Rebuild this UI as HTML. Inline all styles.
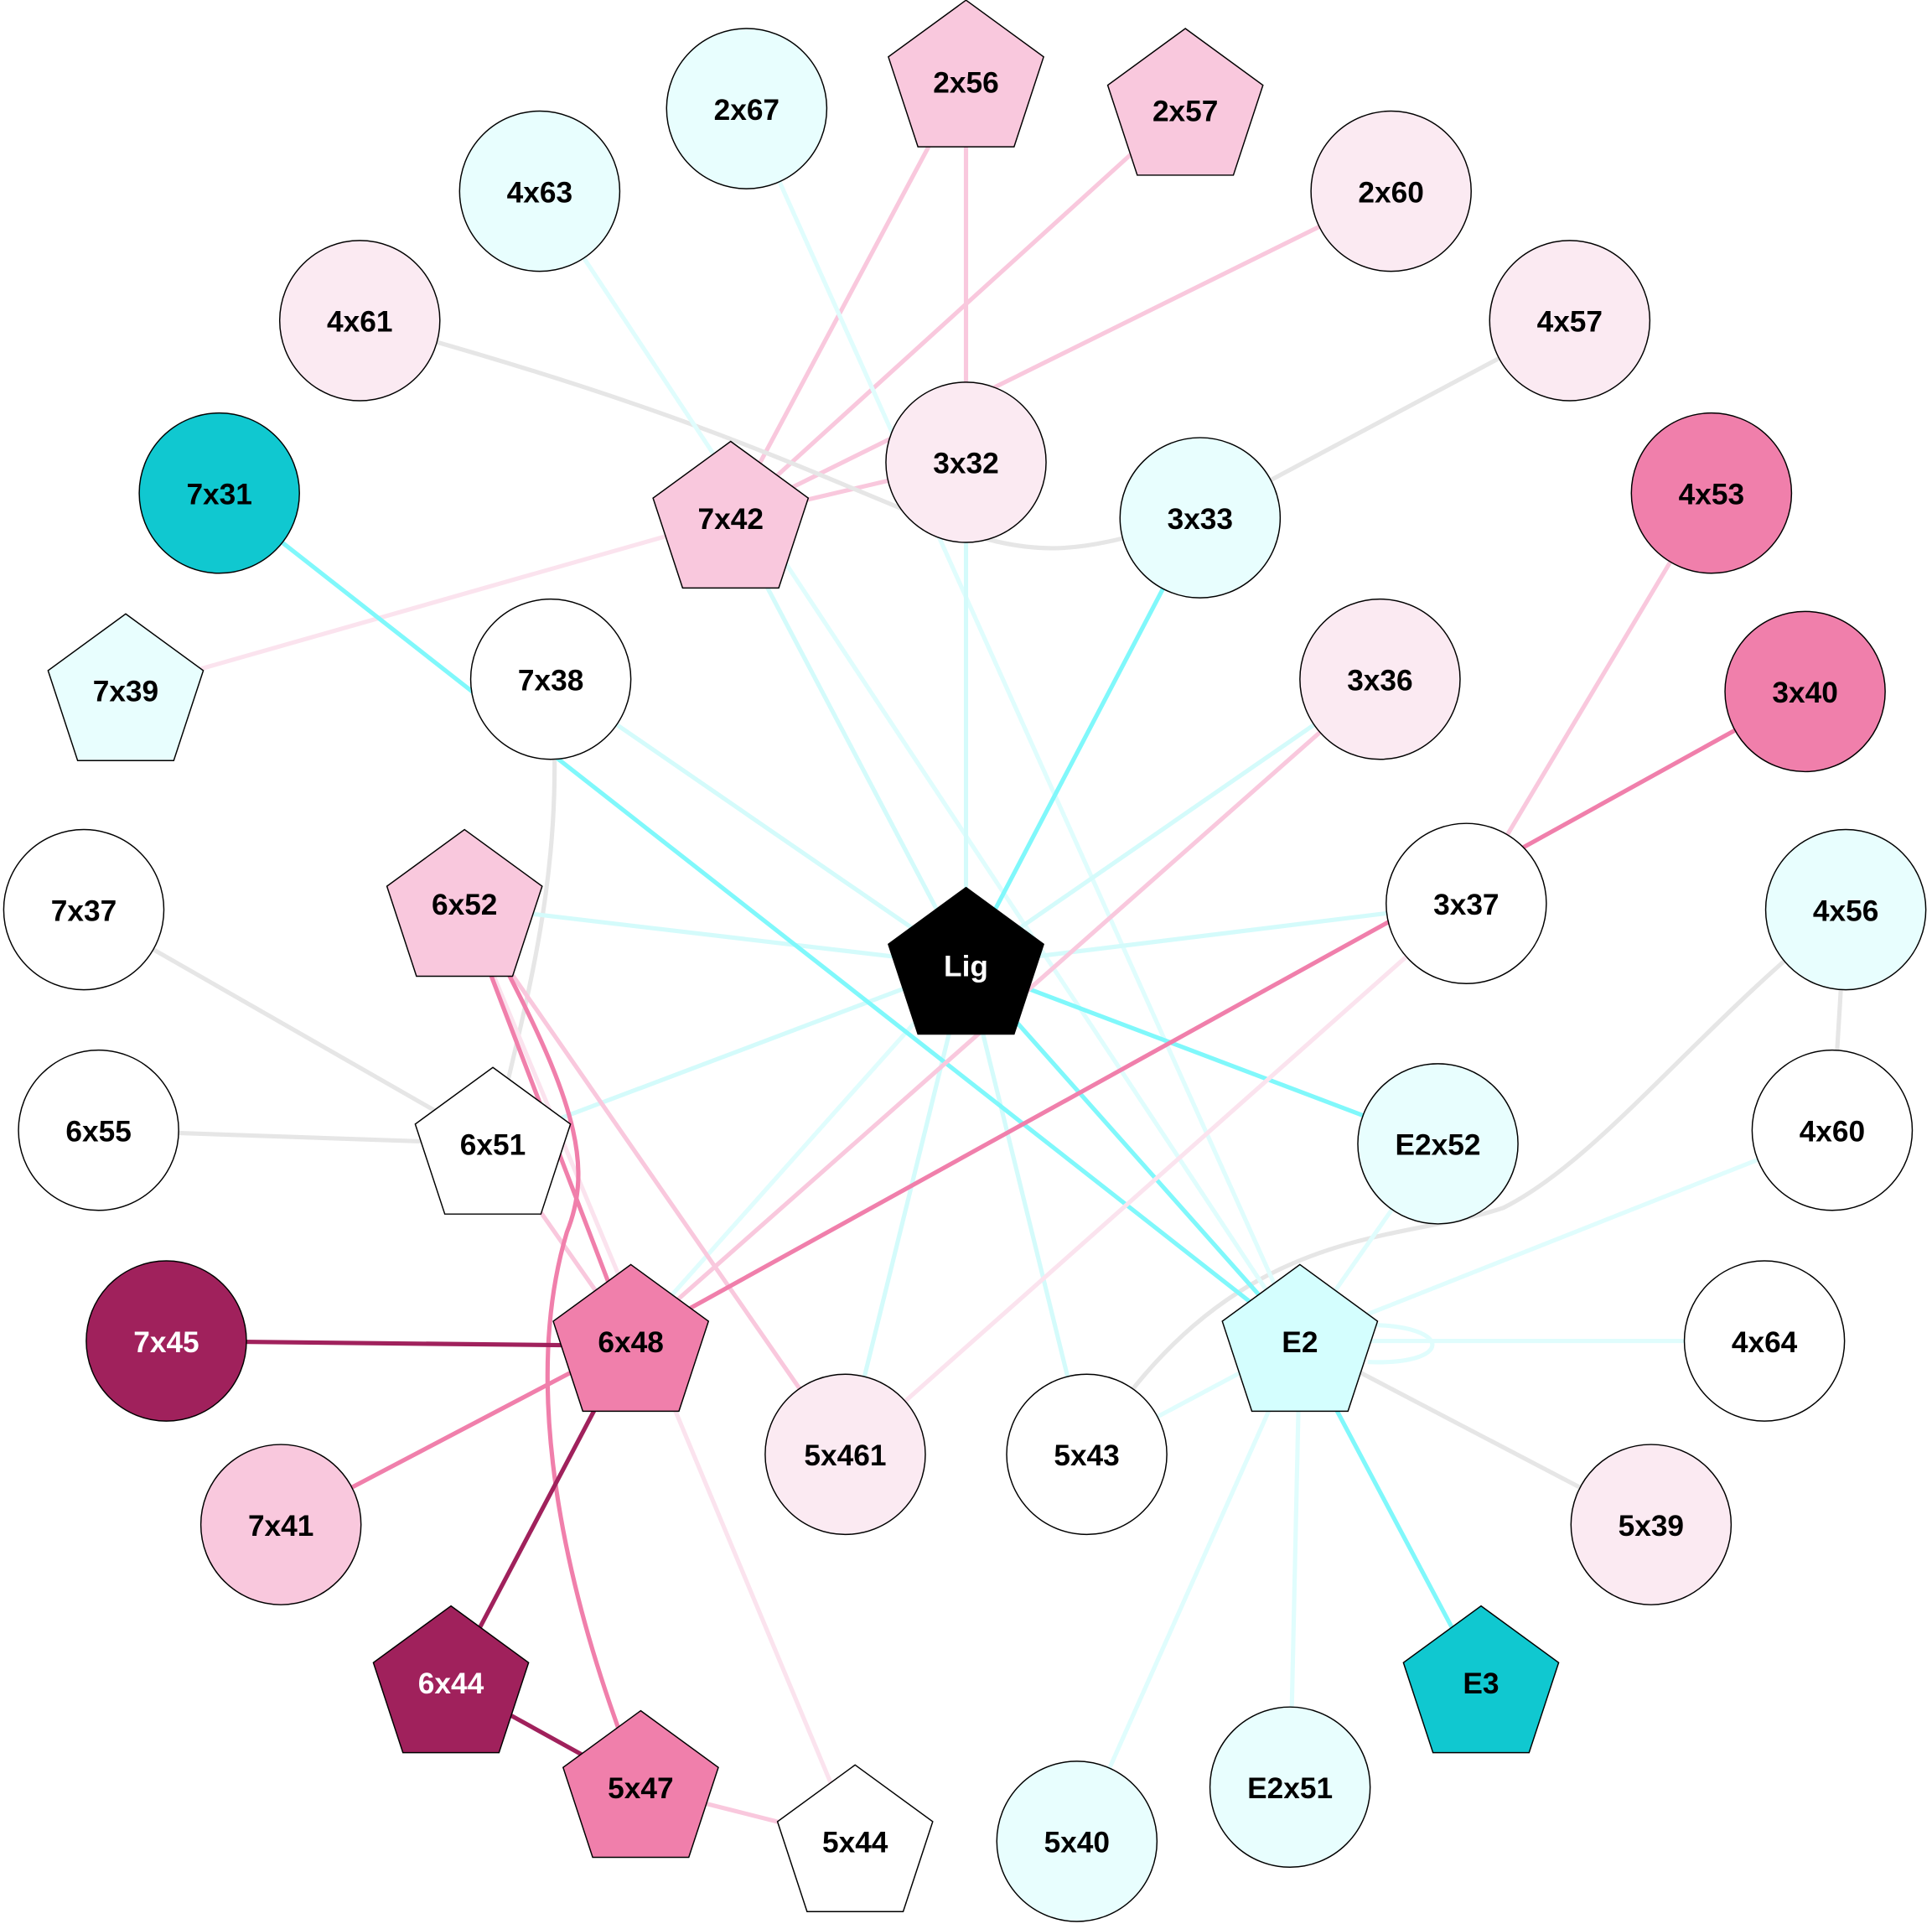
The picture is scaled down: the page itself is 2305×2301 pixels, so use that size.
<!DOCTYPE html>
<html><head><meta charset="utf-8"><style>html,body{margin:0;padding:0;background:#fff}svg{display:block}</style></head>
<body>
<svg xmlns="http://www.w3.org/2000/svg" width="2305" height="2301" viewBox="0 0 1568 1565">
<defs>
<polygon id="pent" points="0,-66 63,-20 39,53 -39,53 -63,-20"/>
</defs>
<g fill="none" stroke-width="3.5">
<!-- pink edges -->
<line x1="593" y1="420" x2="784" y2="62" stroke="#f9c8dd"/>
<line x1="593" y1="420" x2="962" y2="85" stroke="#f9c8dd"/>
<line x1="593" y1="420" x2="1129" y2="155" stroke="#f9c8dd"/>
<line x1="784" y1="62" x2="784" y2="375" stroke="#f9c8dd"/>
<line x1="593" y1="420" x2="784" y2="375" stroke="#f9c8dd"/>
<line x1="593" y1="420" x2="102" y2="560" stroke="#fbe3ee"/>
<!-- gray -->
<path d="M292,260 C550,330 650,380 750,420 S880,445 974,420" stroke="#e6e6e6"/>
<line x1="1274" y1="260" x2="974" y2="420" stroke="#e6e6e6"/>
<path d="M447,551 C460,700 430,800 400,928" stroke="#e6e6e6"/>
<line x1="68" y1="738" x2="400" y2="928" stroke="#e6e6e6"/>
<line x1="80" y1="917" x2="400" y2="928" stroke="#e6e6e6"/>
<path d="M1498,738 C1380,830 1300,940 1220,980 C1130,1010 1000,990 882,1180" stroke="#e6e6e6"/>
<line x1="1498" y1="738" x2="1487" y2="917" stroke="#e6e6e6"/>
<line x1="1055" y1="1088" x2="1340" y2="1237" stroke="#e6e6e6"/>
<!-- light cyan -->
<line x1="606" y1="88" x2="1055" y2="1088" stroke="#e0fdfd"/>
<line x1="438" y1="155" x2="1055" y2="1088" stroke="#e0fdfd"/>
<line x1="784" y1="375" x2="784" y2="783" stroke="#d4fbfb"/>
<line x1="593" y1="420" x2="784" y2="783" stroke="#d4fbfb"/>
<line x1="447" y1="551" x2="784" y2="783" stroke="#d4fbfb"/>
<line x1="1120" y1="551" x2="784" y2="783" stroke="#d4fbfb"/>
<line x1="377" y1="735" x2="784" y2="783" stroke="#d4fbfb"/>
<line x1="1190" y1="733" x2="784" y2="783" stroke="#d4fbfb"/>
<line x1="400" y1="928" x2="784" y2="783" stroke="#d4fbfb"/>
<line x1="784" y1="783" x2="882" y2="1180" stroke="#d4fbfb"/>
<line x1="784" y1="783" x2="686" y2="1180" stroke="#d4fbfb"/>
<line x1="784" y1="783" x2="512" y2="1088" stroke="#e0fdfd"/>
<line x1="1487" y1="917" x2="1055" y2="1088" stroke="#e0fdfd"/>
<line x1="1167" y1="928" x2="1055" y2="1088" stroke="#e0fdfd"/>
<line x1="1055" y1="1088" x2="1432" y2="1088" stroke="#e0fdfd"/>
<path d="M1110,1075 C1180,1075 1180,1108 1110,1105" stroke="#e0fdfd"/>
<line x1="1055" y1="1088" x2="882" y2="1180" stroke="#e0fdfd"/>
<line x1="1055" y1="1088" x2="1047" y2="1450" stroke="#e0fdfd"/>
<line x1="1055" y1="1088" x2="874" y2="1494" stroke="#e0fdfd"/>
<!-- strong cyan -->
<line x1="974" y1="420" x2="784" y2="783" stroke="#80f8fb"/>
<line x1="178" y1="400" x2="1055" y2="1088" stroke="#80f8fb"/>
<line x1="784" y1="783" x2="1167" y2="928" stroke="#80f8fb"/>
<line x1="784" y1="783" x2="1055" y2="1088" stroke="#80f8fb"/>
<line x1="1055" y1="1088" x2="1202" y2="1365" stroke="#80f8fb"/>
<!-- pink rest -->
<line x1="1120" y1="551" x2="512" y2="1088" stroke="#f9c8dd"/>
<line x1="1389" y1="400" x2="1190" y2="733" stroke="#f9c8dd"/>
<line x1="1190" y1="733" x2="686" y2="1180" stroke="#fbe3ee"/>
<line x1="377" y1="735" x2="694" y2="1494" stroke="#fbe3ee"/>
<line x1="377" y1="735" x2="686" y2="1180" stroke="#f9c8dd"/>
<line x1="400" y1="928" x2="512" y2="1088" stroke="#f9c8dd"/>
<line x1="520" y1="1450" x2="694" y2="1494" stroke="#f9c8dd"/>
<line x1="1465" y1="561" x2="512" y2="1088" stroke="#f07fab"/>
<line x1="377" y1="735" x2="512" y2="1088" stroke="#f07fab"/>
<path d="M410,785 C470,900 480,950 460,1000 C430,1100 440,1250 520,1450" stroke="#f07fab"/>
<line x1="228" y1="1237" x2="512" y2="1088" stroke="#f07fab"/>
<line x1="135" y1="1088" x2="512" y2="1092" stroke="#a0215c"/>
<line x1="512" y1="1088" x2="366" y2="1365" stroke="#a0215c"/>
<line x1="366" y1="1365" x2="520" y2="1450" stroke="#a0215c"/>
</g>
<g stroke="#000" stroke-width="1">
<circle cx="606" cy="88" r="65" fill="#e8fefe"/>
<circle cx="1129" cy="155" r="65" fill="#fbeaf2"/>
<circle cx="438" cy="155" r="65" fill="#e8fefe"/>
<circle cx="292" cy="260" r="65" fill="#fbeaf2"/>
<circle cx="1274" cy="260" r="65" fill="#fbeaf2"/>
<circle cx="178" cy="400" r="65" fill="#10c8d0"/>
<circle cx="784" cy="375" r="65" fill="#fbeaf2"/>
<circle cx="974" cy="420" r="65" fill="#e8fefe"/>
<circle cx="1389" cy="400" r="65" fill="#f07fab"/>
<circle cx="447" cy="551" r="65" fill="#fff"/>
<circle cx="1120" cy="551" r="65" fill="#fbeaf2"/>
<circle cx="1465" cy="561" r="65" fill="#f07fab"/>
<circle cx="68" cy="738" r="65" fill="#fff"/>
<circle cx="1190" cy="733" r="65" fill="#fff"/>
<circle cx="1498" cy="738" r="65" fill="#e8fefe"/>
<circle cx="80" cy="917" r="65" fill="#fff"/>
<circle cx="1167" cy="928" r="65" fill="#e8fefe"/>
<circle cx="1487" cy="917" r="65" fill="#fff"/>
<circle cx="135" cy="1088" r="65" fill="#a0215c"/>
<circle cx="1432" cy="1088" r="65" fill="#fff"/>
<circle cx="228" cy="1237" r="65" fill="#f9c8dd"/>
<circle cx="686" cy="1180" r="65" fill="#fbeaf2"/>
<circle cx="882" cy="1180" r="65" fill="#fff"/>
<circle cx="1340" cy="1237" r="65" fill="#fbeaf2"/>
<circle cx="1047" cy="1450" r="65" fill="#e8fefe"/>
<circle cx="874" cy="1494" r="65" fill="#e8fefe"/>
<use href="#pent" x="784" y="66" fill="#f9c8dd"/>
<use href="#pent" x="962" y="89" fill="#f9c8dd"/>
<use href="#pent" x="593" y="424" fill="#f9c8dd"/>
<use href="#pent" x="102" y="564" fill="#e8fefe"/>
<use href="#pent" x="377" y="739" fill="#f9c8dd"/>
<use href="#pent" x="784" y="786" fill="#000"/>
<use href="#pent" x="400" y="932" fill="#fff"/>
<use href="#pent" x="512" y="1092" fill="#f07fab"/>
<use href="#pent" x="1055" y="1092" fill="#d4fefe"/>
<use href="#pent" x="366" y="1369" fill="#a0215c"/>
<use href="#pent" x="1202" y="1369" fill="#10c8d0"/>
<use href="#pent" x="520" y="1454" fill="#f07fab"/>
<use href="#pent" x="694" y="1498" fill="#fff"/>
</g>
<g font-family="Liberation Sans, Arial, sans-serif" font-weight="bold" font-size="24" text-anchor="middle" fill="#000">
<text x="606" y="97">2x67</text><text x="784" y="75">2x56</text><text x="962" y="98">2x57</text>
<text x="1129" y="164">2x60</text><text x="438" y="164">4x63</text><text x="292" y="269">4x61</text>
<text x="1274" y="269">4x57</text><text x="178" y="409">7x31</text><text x="784" y="384">3x32</text>
<text x="593" y="429">7x42</text><text x="974" y="429">3x33</text><text x="1389" y="409">4x53</text>
<text x="102" y="569">7x39</text><text x="447" y="560">7x38</text><text x="1120" y="560">3x36</text>
<text x="1465" y="570">3x40</text><text x="68" y="747">7x37</text><text x="377" y="742">6x52</text>
<text x="784" y="792" fill="#fff">Lig</text><text x="1190" y="742">3x37</text><text x="1498" y="747">4x56</text>
<text x="80" y="926">6x55</text><text x="400" y="937">6x51</text><text x="1167" y="937">E2x52</text>
<text x="1487" y="926">4x60</text><text x="135" y="1097" fill="#fff">7x45</text><text x="512" y="1097">6x48</text>
<text x="1055" y="1097">E2</text><text x="1432" y="1097">4x64</text><text x="228" y="1246">7x41</text>
<text x="686" y="1189">5x461</text><text x="882" y="1189">5x43</text><text x="1340" y="1246">5x39</text>
<text x="366" y="1374" fill="#fff">6x44</text><text x="1202" y="1374">E3</text><text x="520" y="1459">5x47</text>
<text x="694" y="1503">5x44</text><text x="1047" y="1459">E2x51</text><text x="874" y="1503">5x40</text>
</g>
</svg>
</body></html>
